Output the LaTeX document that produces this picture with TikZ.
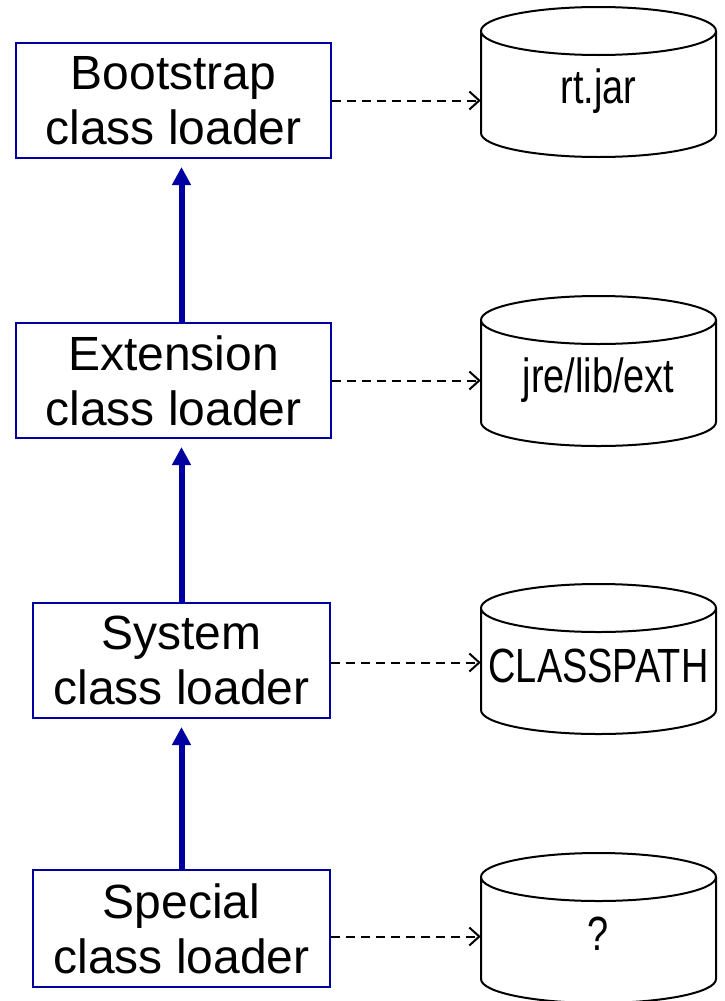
\documentclass[tikz,border=0pt]{standalone}
\usepackage{fontspec}
\setmainfont{Liberation Sans}
\newfontfamily\narrowsans{Liberation Sans}[FakeStretch=0.79]
\usetikzlibrary{arrows.meta}
\definecolor{loaderblue}{RGB}{0,0,160}

\begin{document}
\begin{tikzpicture}[x=1pt, y=-1pt,
    loader/.style={draw=loaderblue, line width=2pt, fill=white, align=center, inner sep=0pt,
      minimum width=315pt, minimum height=115pt, font=\fontsize{48}{55}\selectfont},
    store/.style={anchor=base, inner sep=0pt, minimum width=235pt, font=\narrowsans\fontsize{48}{55}\selectfont},
    storeline/.style={draw, line width=2pt, fill=white},
    parent/.style={draw=loaderblue, line width=6pt, -{Triangle[length=18pt,width=18pt]}, shorten >=8pt},
    uses/.style={draw, line width=2pt, dash pattern=on 9pt off 6pt, -{Straight Barb[length=10pt,width=18pt]}}]
  \useasboundingbox (0,0) rectangle (724,1001);

  % cylinders (top ellipse centre given)
  \foreach \ytop in {31,320,608,877}
    \filldraw[storeline] (481,\ytop) -- (481,\ytop+102)
      arc[start angle=180, end angle=360, x radius=117.5pt, y radius=24pt] -- (716,\ytop)
      arc[start angle=0, end angle=360, x radius=117.5pt, y radius=24pt];

  % class loaders
  \node[loader] (boot) at (173.5,100.5) {Bootstrap\\class loader};
  \node[loader] (ext) at (173.5,380.5) {Extension\\class loader};
  \node[loader, minimum width=297pt] (sys) at (181.5,660.5) {System\\class loader};
  \node[loader, minimum width=297pt, minimum height=117pt] (spec) at (181.5,928.5) {Special\\class loader};

  % where they load from
  \node[store] (rt) at (598.5,103) {rt.jar};
  \node[store] (jre) at (598.5,392) {jre/lib/ext};
  \node[store] (cp) at (598.5,682) {CLASSPATH};
  \node[store] (unk) at (598.5,950) {?};

  % delegation to the parent
  \draw[parent] (sys.north |- ext.north) -- (sys.north |- boot.south);
  \draw[parent] (sys.north) -- (sys.north |- ext.south);
  \draw[parent] (spec.north) -- (spec.north |- sys.south);

  % search paths
  \draw[uses] (boot.east) -- (boot.east -| rt.west);
  \draw[uses] (ext.east) -- (ext.east -| jre.west);
  \draw[uses] ([yshift=-2pt]sys.east) -- ([yshift=-2pt]sys.east -| cp.west);
  \draw[uses] ([yshift=-8pt]spec.east) -- ([yshift=-8pt]spec.east -| unk.west);
\end{tikzpicture}
\end{document}
